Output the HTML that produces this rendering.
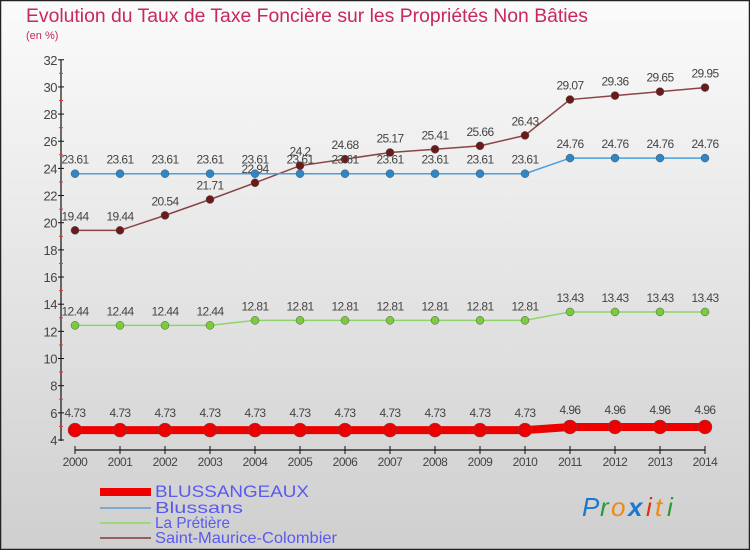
<!DOCTYPE html>
<html><head><meta charset="utf-8"><style>
html,body{margin:0;padding:0}
body{width:750px;height:550px;overflow:hidden;font-family:"Liberation Sans",sans-serif}
</style></head><body>
<svg id="chart" width="750" height="550" xmlns="http://www.w3.org/2000/svg">
<defs><linearGradient id="bg" x1="0" y1="0" x2="0" y2="1"><stop offset="0" stop-color="#fbfbfb"/><stop offset="1" stop-color="#cfcfcf"/></linearGradient></defs>
<rect x="0.5" y="0.5" width="749" height="549" fill="url(#bg)" stroke="#222" stroke-width="1.5"/>
<text x="26" y="22" font-size="19" fill="#c8285a" textLength="562" lengthAdjust="spacingAndGlyphs">Evolution du Taux de Taxe Foncière sur les Propriétés Non Bâties</text>
<text x="26" y="39" font-size="11" fill="#c8285a">(en %)</text>
<g id="axes"></g><g id="series"></g><g id="legend"></g>
<g font-family="Liberation Sans" font-size="26" font-style="italic">
<text x="582" y="516" fill="#1a78d0">P</text><text x="600" y="516" fill="#2a9a3a">r</text><text x="611" y="516" fill="#f08a10">o</text><text x="628" y="516" fill="#1a78d0" font-weight="bold">x</text><text x="646" y="516" fill="#e03010">i</text><text x="655" y="516" fill="#f08a10">t</text><text x="667" y="516" fill="#2a9a3a">i</text>
</g>
</svg>
<script>
const years=[2000,2001,2002,2003,2004,2005,2006,2007,2008,2009,2010,2011,2012,2013,2014];
const yTicks=[4,6,8,10,12,14,16,18,20,22,24,26,28,30,32];
const blussangeaux=[4.73,4.73,4.73,4.73,4.73,4.73,4.73,4.73,4.73,4.73,4.73,4.96,4.96,4.96,4.96];
const blussans=[23.61,23.61,23.61,23.61,23.61,23.61,23.61,23.61,23.61,23.61,23.61,24.76,24.76,24.76,24.76];
const laPretiere=[12.44,12.44,12.44,12.44,12.81,12.81,12.81,12.81,12.81,12.81,12.81,13.43,13.43,13.43,13.43];
const saintMaurice=[19.44,19.44,20.54,21.71,22.94,24.2,24.68,25.17,25.41,25.66,26.43,29.07,29.36,29.65,29.95];
const NS='http://www.w3.org/2000/svg';
const x=i=>75+i*45, y=v=>440-(v-4)*13.58;
function mk(tag,attrs,parent,txt){const e=document.createElementNS(NS,tag);for(const k in attrs)e.setAttribute(k,attrs[k]);if(txt!=null)e.textContent=txt;parent.appendChild(e);return e;}
const ax=document.getElementById('axes');
let e=mk('line',{x1:61,y1:60,x2:61,y2:441,stroke:'#111','stroke-width':1.2},ax);


e=mk('line',{x1:75,y1:450,x2:705,y2:450,stroke:'#111','stroke-width':1.2},ax);


yTicks.forEach(t=>{
 mk('line',{x1:58,y1:y(t),x2:64,y2:y(t),stroke:'#111'},ax);
 if(t<32) mk('line',{x1:59,y1:y(t+1),x2:63,y2:y(t+1),stroke:'#e33'},ax);
 const l=mk('text',{x:57,y:y(t)+5,'font-size':13,'text-anchor':'end',fill:'#444','letter-spacing':'-0.5'},ax,String(t));
 
 
});
years.forEach((yr,i)=>{
 mk('line',{x1:x(i),y1:446,x2:x(i),y2:454,stroke:'#111'},ax);
 const l=mk('text',{x:x(i),y:466,'font-size':12,'text-anchor':'middle',fill:'#444','letter-spacing':'-0.5'},ax,String(yr));
 
 
});
const sg=document.getElementById('series');
const series=[
 {name:'saint-maurice-colombier',data:saintMaurice,line:'#8a4444',dot:'#6a1a1a',w:1.5,r:4},
 {name:'la-pretiere',data:laPretiere,line:'#8fd46a',dot:'#7acc3a',w:1.5,r:4},
 {name:'blussans',data:blussans,line:'#4aa0dc',dot:'#2e86c8',w:1.5,r:4},
 {name:'blussangeaux',data:blussangeaux,line:'#ee0000',dot:'#ee0000',w:8,r:7}
];
series.forEach(s=>{
 const g=mk('g',{},sg);
 
 
 const p=mk('polyline',{points:s.data.map((v,i)=>x(i)+','+y(v)).join(' '),fill:'none',stroke:s.line,'stroke-width':s.w},g);
 
 
 s.data.forEach((v,i)=>{
  const c=mk('circle',{cx:x(i),cy:y(v),r:s.r,fill:s.dot,stroke:'#555','stroke-width':0.5},g);
  
  
  const t=mk('text',{x:x(i),y:y(v)-(s.r+6),'font-size':12,'text-anchor':'middle',fill:'#444','letter-spacing':'-0.6'},g,v.toFixed(2).replace(/0$/,'').replace(/\.$/,''));
  
  
 });
});
const lg=document.getElementById('legend');
const legendItems=[['BLUSSANGEAUX','#ee0000',8,495,16,154],['Blussans','#7aaad0',2,511,15,88],['La Prétière','#9bd87a',2,526,15,75],['Saint-Maurice-Colombier','#946060',2,541,15,182]];
legendItems.forEach(([n,c,w,yy,fs,tl])=>{
 const g=mk('g',{},lg);
 
 
 mk('line',{x1:100,y1:yy-3,x2:151,y2:yy-3,stroke:c,'stroke-width':w},g);
 mk('text',{x:155,y:yy+2,'font-size':fs+1,fill:'#5a5aee',textLength:tl,lengthAdjust:'spacingAndGlyphs'},g,n);
});
</script>
</body></html>
